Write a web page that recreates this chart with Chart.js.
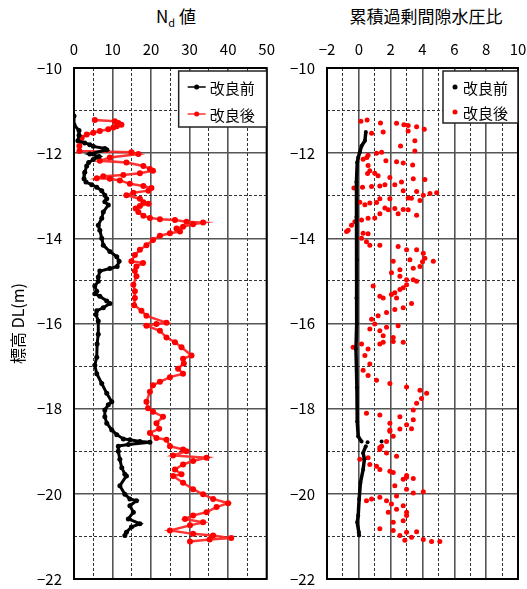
<!DOCTYPE html>
<html lang="ja">
<head>
<meta charset="utf-8">
<script src="https://cdn.jsdelivr.net/npm/chart.js@4.4.1/dist/chart.umd.min.js"></script>
<style>
  body { margin: 0; background: #fff; width: 527px; height: 589px; overflow: hidden; position: relative; }
  .title { position: absolute; top: 3px; font-family: "Noto Sans CJK JP", sans-serif; font-size: 17px; color: #000; white-space: nowrap; transform: translateX(-50%); }
  .title sub { font-size: 11px; }
  canvas { position: absolute; top: 0; }
</style>
</head>
<body>
<div class="title" style="left:176px">N<sub>d</sub> 値</div>
<div class="title" style="left:426px">累積過剰間隙水圧比</div>
<canvas id="ndChart" width="285" height="600" style="left:0"></canvas>
<canvas id="pwChart" width="262" height="600" style="left:275px"></canvas>
<script>
// ---- data (elevation DL in m) ----
const seriesLabels = ['改良前', '改良後'];

// N_d before improvement
const beforeNdDepth = [-11.13, -11.33, -11.47, -11.58, -11.71, -11.76, -11.8, -11.84, -11.89, -11.92, -12.02, -12.08, -12.15, -12.22,
  -12.3, -12.45, -12.6, -12.68, -12.74, -12.8, -12.88, -12.99, -13.07, -13.14, -13.22, -13.38, -13.53, -13.69, -13.81,
  -14.0, -14.16, -14.31, -14.43, -14.54, -14.66, -14.71, -14.77, -14.91, -15.01, -15.12, -15.24, -15.3, -15.36, -15.47,
  -15.53, -15.63, -15.7, -15.79, -15.94, -16.25, -16.48, -16.79, -16.98, -17.18, -17.41, -17.64, -17.84, -17.91, -18.03,
  -18.19, -18.34, -18.5, -18.61, -18.71, -18.73, -18.77, -18.79, -18.84, -18.88, -19.0, -19.19, -19.39, -19.54, -19.58,
  -19.81, -20.01, -20.12, -20.16, -20.28, -20.43, -20.59, -20.7, -20.78, -20.9, -20.98];
const beforeNdValue = [0, 0, 1.3, 1.3, 1.0, 2.8, 4.1, 5.0, 8.0, 8.5, 4.1, 6.5, 5.0, 3.8,
  3.3, 2.8, 2.6, 3.1, 4.6, 5.9, 7.2, 8.0, 8.5, 8.0, 8.9, 7.6, 7.2, 6.3, 6.7,
  7.2, 7.6, 9.3, 11.1, 11.7, 11.2, 9.3, 6.7, 6.3, 6.3, 5.4, 5.9, 5.4, 6.7, 8.5,
  9.3, 7.6, 5.9, 5.7, 6.3, 6.3, 6.0, 5.9, 5.4, 5.9, 7.2, 8.5, 9.8, 8.9, 8.0,
  8.0, 8.5, 9.8, 11.1, 12.8, 14.5, 17.1, 19.7, 14.1, 11.5, 11.5, 11.9, 12.4, 13.2, 13.6,
  11.9, 13.2, 14.5, 16.2, 14.5, 15.4, 14.1, 17.1, 14.9, 13.6, 13.2];

// N_d after improvement
const afterNdDepth = [-11.22, -11.25, -11.29, -11.33, -11.37, -11.4, -11.44, -11.48, -11.52, -11.56, -11.64, -11.71, -11.83,
  -11.95, -11.98, -12.02, -12.1, -12.18, -12.22, -12.3, -12.37, -12.41, -12.47, -12.51, -12.54, -12.59, -12.6, -12.64,
  -12.72, -12.77, -12.82, -12.88, -12.93, -12.99, -13.07, -13.15, -13.19, -13.24, -13.3, -13.38, -13.47, -13.52, -13.55,
  -13.57, -13.61, -13.63, -13.67, -13.73, -13.77, -13.84, -13.88, -13.94, -14.04, -14.16, -14.27, -14.39, -14.54, -14.58,
  -14.66, -14.77, -14.89, -15.09, -15.24, -15.4, -15.57, -15.7, -15.82, -15.98, -16.01, -16.05, -16.17, -16.33, -16.44,
  -16.56, -16.75, -16.83, -16.94, -17.06, -17.18, -17.26, -17.37, -17.45, -17.6, -17.84, -17.99, -18.07, -18.19, -18.34,
  -18.47, -18.57, -18.69, -18.73, -18.88, -18.96, -19.0, -19.1, -19.15, -19.23, -19.31, -19.43, -19.54, -19.58, -19.74,
  -19.89, -20.01, -20.12, -20.22, -20.31, -20.43, -20.51, -20.59, -20.67, -20.74, -20.86, -20.94, -20.98, -21.04, -21.07, -21.12];
const afterNdValue = [5.4, 10.6, 11.5, 12.3, 11.1, 10.2, 8.9, 6.7, 5.0, 3.3, 2.0, 1.7, 1.4,
  1.4, 14.9, 16.7, 9.3, 6.7, 13.6, 18.0, 19.7, 20.5, 17.1, 12.8, 7.6, 5.9, 9.3, 11.9,
  14.5, 18.0, 20.1, 19.3, 15.4, 13.6, 17.1, 18.0, 19.3, 17.1, 16.0, 16.7, 18.0, 19.7, 22.3,
  26.2, 29.2, 33.5, 30.9, 28.3, 26.6, 27.5, 24.9, 22.3, 20.5, 18.8, 17.1, 15.8, 14.9, 17.9,
  16.2, 15.8, 16.2, 15.4, 15.8, 15.8, 15.6, 17.5, 18.8, 24.0, 21.4, 18.8, 22.3, 24.0, 26.2,
  27.9, 30.5, 28.3, 28.5, 27.0, 28.3, 24.9, 22.3, 20.5, 19.7, 18.8, 19.2, 20.5, 23.1, 21.4,
  22.1, 19.7, 21.4, 24.0, 24.9, 28.3, 29.2, 25.7, 34.4, 30.9, 28.3, 26.2, 27.9, 25.7, 28.3,
  30.9, 33.5, 36.1, 40.0, 37.0, 34.4, 30.9, 28.8, 33.5, 30.1, 24.9, 30.9, 36.1, 40.8, 35.2, 30.1];

// cumulative excess pore water pressure ratio before improvement
const beforePwDepth = [-11.5, -11.71, -11.83, -11.98, -12.1, -12.22, -12.68, -13.5, -14.5, -15.4, -16.0, -16.6, -17.5,
  -18.3, -18.65, -18.77, -18.79, -18.77, -18.88, -19.04, -19.19, -19.43, -19.74, -20.12, -20.51, -20.67, -20.9, -20.98];
const beforePwRatio = [0.44, 0.38, 0.17, 0.06, -0.04, -0.1, -0.15, -0.15, -0.12, -0.15, -0.12, -0.18, -0.12,
  -0.1, -0.04, 0.17, 0.55, 1.43, 0.44, 0.27, 0.35, 0.27, 0.1, 0.02, -0.04, -0.1, 0.0, 0.02];

// cumulative excess pore water pressure ratio after improvement
const afterPwDepth = [-11.22, -11.25, -11.29, -11.3, -11.33, -11.35, -11.38, -11.44, -11.48, -11.5, -11.53, -11.71, -11.83,
  -11.95, -11.98, -12.0, -12.05, -12.1, -12.14, -12.18, -12.2, -12.23, -12.28, -12.29, -12.41, -12.47, -12.48, -12.53,
  -12.57, -12.6, -12.62, -12.68, -12.74, -12.74, -12.77, -12.78, -12.8, -12.82, -12.88, -12.9, -12.93, -12.95, -12.99,
  -13.05, -13.06, -13.07, -13.07, -13.11, -13.15, -13.16, -13.17, -13.21, -13.29, -13.3, -13.32, -13.33, -13.33, -13.42,
  -13.42, -13.46, -13.52, -13.53, -13.57, -13.61, -13.69, -13.81, -13.84, -13.88, -13.89, -14.0, -14.08, -14.16, -14.16,
  -14.19, -14.27, -14.27, -14.35, -14.47, -14.5, -14.54, -14.54, -14.55, -14.66, -14.7, -14.74, -14.81, -14.89, -14.97,
  -14.97, -15.01, -15.09, -15.12, -15.16, -15.2, -15.28, -15.32, -15.36, -15.4, -15.4, -15.53, -15.63, -15.67, -15.74,
  -15.82, -15.9, -16.01, -16.05, -16.09, -16.13, -16.17, -16.29, -16.33, -16.42, -16.44, -16.44, -16.48, -16.48, -16.56,
  -16.6, -16.75, -16.95, -17.1, -17.22, -17.33, -17.41, -17.49, -17.57, -17.64, -17.76, -17.87, -18.03, -18.11, -18.15,
  -18.19, -18.26, -18.34, -18.38, -18.47, -18.48, -18.5, -18.53, -18.65, -18.77, -18.88, -18.91, -18.96, -19.04, -19.12,
  -19.15, -19.19, -19.31, -19.35, -19.43, -19.47, -19.5, -19.57, -19.61, -19.64, -19.66, -19.81, -19.89, -19.95, -19.98,
  -20.05, -20.08, -20.12, -20.16, -20.16, -20.24, -20.28, -20.36, -20.43, -20.43, -20.51, -20.63, -20.67, -20.82, -20.86,
  -20.89, -20.9, -20.98, -21.02, -21.07, -21.09, -21.12, -21.12];
const afterPwRatio = [0.52, 0.13, 1.36, 2.37, 2.83, 3.1, 3.63, 4.11, 3.1, 1.53, 0.8, 3.52, 2.62,
  3.52, 1.43, 1.11, 0.58, 0.5, 0.27, 1.7, 2.37, 2.79, 3.38, 0.58, 0.69, 1.0, 0.55, 1.21,
  1.95, 3.42, 4.15, 2.68, 1.64, 2.26, 1.32, 0.8, 0.23, -0.31, 2.79, 3.63, 4.89, 4.47, 4.05,
  3.1, 3.3, 1.95, 1.32, 3.84, 0.06, 1.11, 0.69, 0.38, 1.64, 2.26, 2.79, 1.85, 3.1, 1.32,
  2.47, 3.63, 1.0, 0.58, 0.17, -0.25, -0.46, -0.67, -0.77, 0.27, 0.58, 0.17, 0.48, 0.69, 1.32,
  2.47, 3.0, 3.63, 4.05, 4.15, 3.21, 4.68, 2.16, 4.0, 3.84, 3.42, 2.58, 2.05, 2.58, 3.0,
  3.42, 3.63, 3.0, 0.9, 2.79, 2.58, 2.26, 2.05, 1.32, 1.53, 2.37, 3.31, 2.79, 2.26, 1.74,
  1.21, 0.8, 1.0, 2.47, 1.74, 0.69, 1.32, 1.53, 2.16, 2.16, 1.53, 2.79, 1.32, 0.17, -0.36,
  0.58, 0.38, 0.69, 0.27, 0.58, 1.11, 1.95, 3.0, 3.84, 4.26, 3.94, 3.63, 3.42, 0.48, 1.32,
  2.58, 3.42, 1.95, 3.0, 3.31, 2.58, 1.95, 1.95, 2.16, 1.74, 1.43, 1.32, 1.32, 1.74, 2.37,
  0.58, 0.06, 0.69, 1.11, 1.32, 1.95, 2.16, 3.0, 3.0, 3.42, 2.79, 2.26, 3.0, 4.05, 3.42,
  2.37, 1.32, 0.8, 0.48, 1.74, 2.05, 2.79, 2.37, 3.0, 1.85, 3.0, 2.79, 2.16, 1.32, 2.16,
  3.63, 3.0, 2.58, 3.31, 4.05, 2.89, 4.57, 5.09];

const elevationRange = [-22, -10];
const ndRange = [0, 50];
const pwRange = [-2, 10];

const FONT = '"Noto Sans CJK JP", "Noto Sans", sans-serif';
const RED = 'rgb(255, 0, 0)';

const toPoints = (xs, ys) => xs.map((x, i) => ({ x: x, y: ys[i] }));
const minus = v => String(v).replace('-', '\u2212');

// major grid lines solid, minor ones dashed
const gridColor = major => ctx => (ctx.tick && !major(ctx.tick.value) ? '#333' : '#555');
const gridWidth = major => ctx => (ctx.tick && !major(ctx.tick.value) ? 1 : 1.6);
const gridDash = major => ctx => (ctx.tick && !major(ctx.tick.value) ? [3, 2] : []);

// frame round the plot and a boxed legend inside its top right corner
const boxLegend = {
  id: 'boxLegend',
  beforeDatasetsDraw(chart) {
    const a = chart.chartArea;
    const ctx = chart.ctx;
    ctx.save();
    ctx.strokeStyle = '#000';
    ctx.lineWidth = 2;
    ctx.strokeRect(a.left, a.top, a.right - a.left, a.bottom - a.top);
    ctx.restore();
  },
  afterDraw(chart, args, opts) {
    const a = chart.chartArea;
    const ctx = chart.ctx;
    const left = a.right - opts.width;
    const top = a.top + 3;
    ctx.save();
    ctx.fillStyle = '#fff';
    ctx.fillRect(left, top, opts.width, opts.height);
    ctx.strokeStyle = '#222';
    ctx.lineWidth = 1.5;
    ctx.strokeRect(left, top, opts.width, opts.height);
    ctx.font = '15px ' + FONT;
    ctx.textBaseline = 'middle';
    chart.data.datasets.forEach((ds, i) => {
      const y = top + opts.rows[i];
      if (opts.line) {
        ctx.strokeStyle = ds.borderColor;
        ctx.lineWidth = 1.5;
        ctx.beginPath();
        ctx.moveTo(left + 9, y);
        ctx.lineTo(left + 27, y);
        ctx.stroke();
      }
      ctx.fillStyle = ds.pointBackgroundColor;
      ctx.beginPath();
      ctx.arc(left + opts.dotX, y, 2.5, 0, Math.PI * 2);
      ctx.fill();
      ctx.fillStyle = '#000';
      ctx.fillText(ds.label, left + opts.textX, y + 1);
    });
    ctx.restore();
  }
};

function axisOptions(range, step, major, width, height) {
  return {
    x: {
      type: 'linear', position: 'top', min: range[0], max: range[1],
      ticks: { stepSize: step, autoSkip: false, maxRotation: 0, minRotation: 0, padding: 10, color: '#000',
        font: { family: FONT, size: 15 }, callback: v => (major(v) ? minus(v) : '') },
      grid: { drawTicks: false, color: gridColor(major), lineWidth: gridWidth(major) },
      border: { display: false, dash: gridDash(major) },
      afterFit: s => { s.height = height; }
    },
    y: {
      type: 'linear', min: elevationRange[0], max: elevationRange[1],
      ticks: { stepSize: 1, autoSkip: false, padding: 12, color: '#000', font: { family: FONT, size: 15 },
        callback: v => (v % 2 === 0 ? minus(v) : '') },
      grid: { drawTicks: false, color: gridColor(v => v % 2 === 0), lineWidth: gridWidth(v => v % 2 === 0) },
      border: { display: false, dash: gridDash(v => v % 2 === 0) },
      afterFit: s => { s.width = width; }
    }
  };
}

const ndScales = axisOptions(ndRange, 5, v => v % 10 === 0, 74, 68);
ndScales.y.title = { display: true, text: '標高 DL(m)', color: '#000', font: { family: FONT, size: 16 }, padding: { top: 8, bottom: 0 } };

new Chart(document.getElementById('ndChart'), {
  type: 'scatter',
  data: {
    datasets: [
      { label: seriesLabels[0], data: toPoints(beforeNdValue, beforeNdDepth), showLine: true,
        borderColor: '#000', borderWidth: 3, pointBackgroundColor: '#000', pointBorderWidth: 0, pointRadius: 2.5 },
      { label: seriesLabels[1], data: toPoints(afterNdValue, afterNdDepth), showLine: true,
        borderColor: 'rgba(255, 30, 30, 0.9)', borderWidth: 2.5, pointBackgroundColor: RED, pointBorderWidth: 0, pointRadius: 3 }
    ]
  },
  options: {
    responsive: false, animation: false,
    layout: { padding: { top: 0, right: 18, bottom: 16, left: 0 } },
    scales: ndScales,
    plugins: {
      legend: { display: false }, tooltip: { enabled: false },
      boxLegend: { width: 88, height: 56, rows: [16, 43], line: true, dotX: 18, textX: 31 }
    }
  },
  plugins: [boxLegend]
});

new Chart(document.getElementById('pwChart'), {
  type: 'scatter',
  data: {
    datasets: [
      { label: seriesLabels[0], data: toPoints(beforePwRatio, beforePwDepth), showLine: true,
        borderColor: '#000', borderWidth: 3.5, pointBackgroundColor: '#000', pointBorderWidth: 0, pointRadius: 2,
        segment: { borderColor: c => (Math.abs(c.p1.parsed.x - c.p0.parsed.x) > 0.3 ? 'transparent' : '#000') } },
      { label: seriesLabels[1], data: toPoints(afterPwRatio, afterPwDepth), showLine: false,
        borderColor: RED, pointBackgroundColor: RED, pointBorderWidth: 0, pointRadius: 2.5 }
    ]
  },
  options: {
    responsive: false, animation: false,
    layout: { padding: { top: 0, right: 19, bottom: 16, left: 0 } },
    scales: axisOptions(pwRange, 1, v => v % 2 === 0, 52, 68),
    plugins: {
      legend: { display: false }, tooltip: { enabled: false },
      boxLegend: { width: 75, height: 52, rows: [16, 41], line: false, dotX: 12, textX: 20 }
    }
  },
  plugins: [boxLegend]
});
</script>
</body>
</html>
